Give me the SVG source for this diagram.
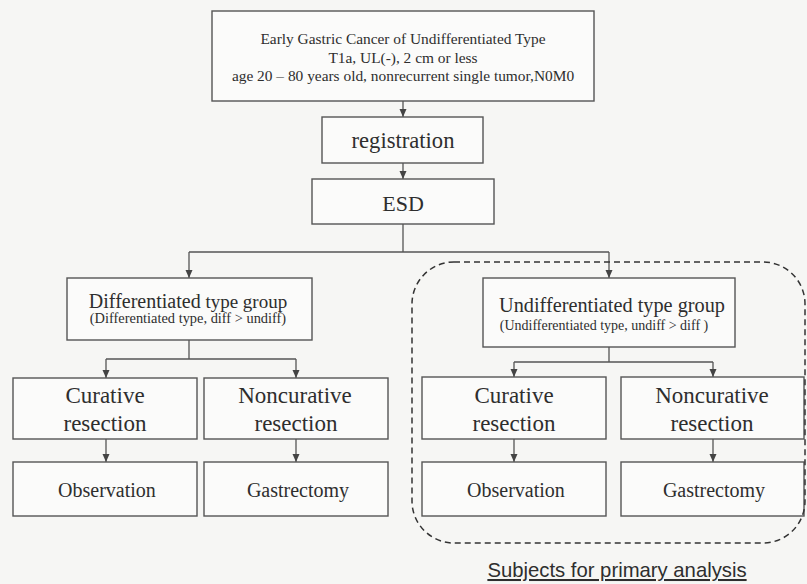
<svg xmlns="http://www.w3.org/2000/svg" width="807" height="584" viewBox="0 0 807 584">
<defs>
<marker id="ah" viewBox="0 0 8 8" refX="8" refY="4" markerWidth="8" markerHeight="8" markerUnits="userSpaceOnUse" orient="auto">
<path d="M0,0.5 L8,4 L0,7.5 Z" fill="#444"/>
</marker>
<style>
.bx{fill:#fbfbfa;stroke:#555;stroke-width:1.4}
.t{font-family:"Liberation Serif","Times New Roman",serif;fill:#2e2e2e;text-anchor:middle}
.ln{fill:none;stroke:#555;stroke-width:1.3}
.ar{fill:none;stroke:#555;stroke-width:1.3;marker-end:url(#ah)}
</style>
</defs>
<rect x="0" y="0" width="807" height="584" fill="#f6f6f4"/>
<g id="connectors">
<path class="ar" d="M403,101 V117"/>
<path class="ar" d="M403,163 V179"/>
<path class="ln" d="M403,224 V252 M189,252 H609"/>
<path class="ar" d="M189,252 V278"/>
<path class="ar" d="M609,252 V278"/>
<path class="ln" d="M189,340 V359 M106,359 H296"/>
<path class="ar" d="M106,359 V378"/>
<path class="ar" d="M296,359 V378"/>
<path class="ar" d="M106,439 V462"/>
<path class="ar" d="M296,439 V462"/>
<path class="ln" d="M609,347 V362 M514,362 H713"/>
<path class="ar" d="M514,362 V377"/>
<path class="ar" d="M713,362 V377"/>
<path class="ar" d="M514,439 V462"/>
<path class="ar" d="M713,439 V462"/>
</g>
<g id="top">
<rect class="bx" x="212" y="11" width="382" height="90"/>
<text class="t" x="403" y="44" font-size="15.4">Early Gastric Cancer of Undifferentiated Type</text>
<text class="t" x="403" y="63" font-size="15.4">T1a, UL(-), 2 cm or less</text>
<text class="t" x="403" y="81" font-size="15.4">age 20 – 80 years old, nonrecurrent single tumor,N0M0</text>
</g>
<g id="registration">
<rect class="bx" x="322" y="117" width="161" height="46"/>
<text class="t" x="403" y="148" font-size="22.6">registration</text>
</g>
<g id="esd">
<rect class="bx" x="312" y="179" width="182" height="45"/>
<text class="t" x="403" y="211" font-size="22">ESD</text>
</g>
<g id="diff">
<rect class="bx" x="67" y="278" width="245" height="62"/>
<text class="t" x="188" y="308" font-size="20">Differentiated<tspan font-size="19"> type group</tspan></text>
<text class="t" x="188" y="323" font-size="14.4">(Differentiated type, diff &gt;  undiff)</text>
</g>
<g id="undiff">
<rect class="bx" x="483" y="278" width="252" height="69"/>
<text class="t" x="612" y="312" font-size="20.3">Undifferentiated type group</text>
<text class="t" x="604" y="330" font-size="14">(Undifferentiated type, undiff &gt; diff )</text>
</g>
<g id="cur-left">
<rect class="bx" x="13" y="378" width="184" height="61"/>
<text class="t" x="105" y="403" font-size="23">Curative</text>
<text class="t" x="105" y="431" font-size="23">resection</text>
</g>
<g id="noncur-left">
<rect class="bx" x="204" y="378" width="184" height="61"/>
<text class="t" x="295" y="403" font-size="23">Noncurative</text>
<text class="t" x="296" y="431" font-size="23">resection</text>
</g>
<g id="obs-left">
<rect class="bx" x="13" y="462" width="184" height="54"/>
<text class="t" x="107" y="497" font-size="20">Observation</text>
</g>
<g id="gas-left">
<rect class="bx" x="204" y="462" width="184" height="54"/>
<text class="t" x="298" y="497" font-size="20">Gastrectomy</text>
</g>
<g id="cur-right">
<rect class="bx" x="422" y="377" width="184" height="62"/>
<text class="t" x="514" y="403" font-size="23">Curative</text>
<text class="t" x="514" y="431" font-size="23">resection</text>
</g>
<g id="noncur-right">
<rect class="bx" x="621" y="377" width="183" height="62"/>
<text class="t" x="712" y="403" font-size="23">Noncurative</text>
<text class="t" x="712" y="431" font-size="23">resection</text>
</g>
<g id="obs-right">
<rect class="bx" x="422" y="462" width="184" height="54"/>
<text class="t" x="516" y="497" font-size="20">Observation</text>
</g>
<g id="gas-right">
<rect class="bx" x="621" y="462" width="183" height="54"/>
<text class="t" x="714" y="497" font-size="20">Gastrectomy</text>
</g>
<g id="primary-analysis">
<rect x="412" y="262" width="393" height="281" rx="42" ry="42" fill="none" stroke="#333" stroke-width="1.5" stroke-dasharray="6 4"/>
<text x="617" y="577" font-family="Liberation Sans, Arial, sans-serif" font-size="20.3" fill="#2e2e2e" text-anchor="middle" text-decoration="underline">Subjects for primary analysis</text>
</g>
</svg>
